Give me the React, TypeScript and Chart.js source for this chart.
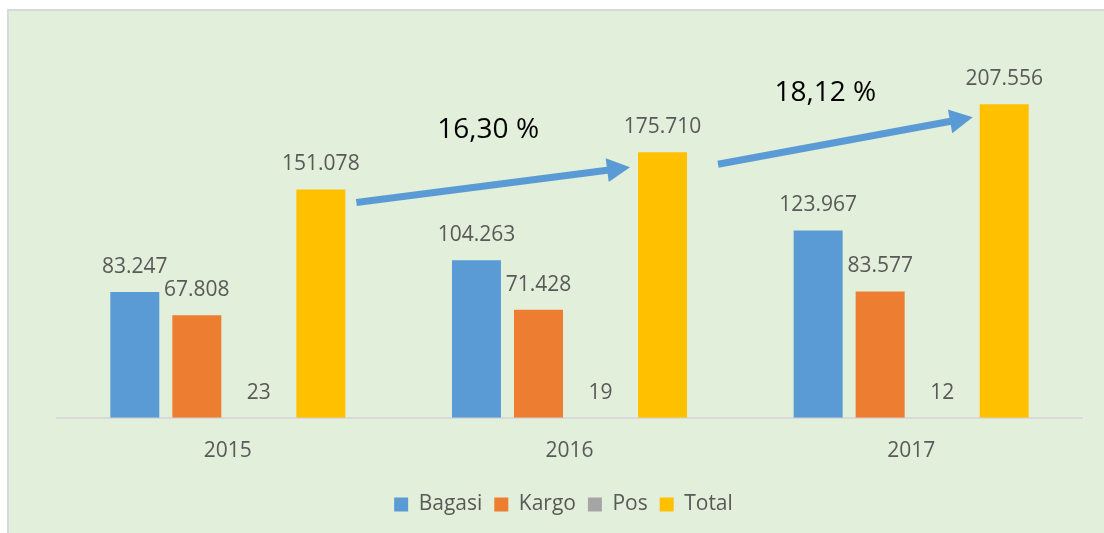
import React, { useEffect, useRef } from "react";
import { Chart, registerables } from "chart.js";

Chart.register(...registerables);

const years = ["2015", "2016", "2017"];
const bagasi = [83247, 104263, 123967];
const kargo = [67808, 71428, 83577];
const pos = [23, 19, 12];
const total = [151078, 175710, 207556];
const growthLabels = ["16,30 %", "18,12 %"];

const FONT = "'Open Sans', 'DejaVu Sans', sans-serif";
const LABEL_COLOR = "#595959";

function fmt(v: number): string {
  return Math.round(v).toString().replace(/\B(?=(\d{3})+(?!\d))/g, ".");
}

const backgroundPlugin = {
  id: "bgBox",
  beforeDraw(chart: any) {
    const ctx = chart.ctx;
    const w = chart.width;
    const h = chart.height;
    ctx.save();
    ctx.fillStyle = "#ffffff";
    ctx.fillRect(0, 0, w, h);
    ctx.fillStyle = "#E2EFDA";
    ctx.fillRect(8, 10, w - 8, h - 10);
    ctx.strokeStyle = "#D9D9D9";
    ctx.lineWidth = 2;
    ctx.beginPath();
    ctx.moveTo(8, h);
    ctx.lineTo(8, 10);
    ctx.lineTo(w, 10);
    ctx.stroke();
    ctx.restore();
  },
};

const legendShiftPlugin = {
  id: "legendShift",
  afterLayout(chart: any) {
    if (chart.legend) {
      chart.legend.left -= 6;
      chart.legend.right -= 6;
    }
  },
};

const dataLabelPlugin = {
  id: "dataLabels",
  afterDatasetsDraw(chart: any) {
    const ctx = chart.ctx;
    ctx.save();
    ctx.font = `21px ${FONT}`;
    ctx.fillStyle = LABEL_COLOR;
    ctx.textAlign = "center";
    ctx.textBaseline = "middle";
    chart.data.datasets.forEach((ds: any, i: number) => {
      const meta = chart.getDatasetMeta(i);
      meta.data.forEach((bar: any, j: number) => {
        ctx.fillText(fmt(ds.data[j]), bar.x, bar.y - 25);
      });
    });
    ctx.restore();
  },
};

const arrowPlugin = {
  id: "growthArrows",
  afterDatasetsDraw(chart: any) {
    const meta = chart.getDatasetMeta(3);
    const bars = meta.data;
    const offsets = [
      { sx: 11, sy: 13, ex: -8, ey: 15, lx: -5, ly: -55 },
      { sx: 31, sy: 12, ex: -7, ey: 13, lx: -20, ly: -48 },
    ];
    const ctx = chart.ctx;
    ctx.save();
    for (let k = 0; k < bars.length - 1; k++) {
      const a = bars[k];
      const b = bars[k + 1];
      const o = offsets[k];
      const x1 = a.x + a.width / 2 + o.sx;
      const y1 = a.y + o.sy;
      const x2 = b.x - b.width / 2 + o.ex;
      const y2 = b.y + o.ey;
      const dx = x2 - x1;
      const dy = y2 - y1;
      const len = Math.sqrt(dx * dx + dy * dy);
      const ux = dx / len;
      const uy = dy / len;
      const headLen = 23;
      const headHalf = 12;
      const bx = x2 - ux * headLen;
      const by = y2 - uy * headLen;
      ctx.strokeStyle = "#5B9BD5";
      ctx.fillStyle = "#5B9BD5";
      ctx.lineWidth = 7;
      ctx.lineCap = "butt";
      ctx.beginPath();
      ctx.moveTo(x1, y1);
      ctx.lineTo(bx + ux * 2, by + uy * 2);
      ctx.stroke();
      ctx.beginPath();
      ctx.moveTo(x2, y2);
      ctx.lineTo(bx - uy * headHalf, by + ux * headHalf);
      ctx.lineTo(bx + uy * headHalf, by - ux * headHalf);
      ctx.closePath();
      ctx.fill();

      const mx = (x1 + x2) / 2 + o.lx;
      const my = (y1 + y2) / 2 + o.ly;
      ctx.font = `28px ${FONT}`;
      ctx.fillStyle = "#000000";
      ctx.textAlign = "center";
      ctx.textBaseline = "middle";
      ctx.fillText(growthLabels[k], mx, my);
    }
    ctx.restore();
  },
};

export default function App() {
  const canvasRef = useRef<HTMLCanvasElement | null>(null);

  useEffect(() => {
    if (!canvasRef.current) return;
    const barOpts = { categoryPercentage: 0.726, barPercentage: 0.79 };
    const chart = new Chart(canvasRef.current, {
      type: "bar",
      data: {
        labels: years,
        datasets: [
          { label: "Bagasi", data: bagasi, backgroundColor: "#5B9BD5", ...barOpts },
          { label: "Kargo", data: kargo, backgroundColor: "#ED7D31", ...barOpts },
          { label: "Pos", data: pos, backgroundColor: "#A5A5A5", ...barOpts },
          { label: "Total", data: total, backgroundColor: "#FFC000", ...barOpts },
        ],
      },
      options: {
        animation: false,
        responsive: false,
        maintainAspectRatio: false,
        layout: { padding: { left: 57, right: 22, top: 40, bottom: 8 } },
        plugins: {
          legend: {
            position: "bottom",
            labels: {
              boxWidth: 14,
              boxHeight: 14,
              padding: 12,
              color: LABEL_COLOR,
              font: { size: 21, family: FONT },
            },
          },
          tooltip: { enabled: false },
          title: { display: false },
        },
        scales: {
          x: {
            grid: { display: false, drawTicks: false },
            border: { display: true, color: "#D9D9D9", width: 2 },
            ticks: {
              padding: 21,
              color: LABEL_COLOR,
              font: { size: 21, family: FONT },
            },
            afterFit: (scale: any) => {
              scale.height -= 3;
            },
          },
          y: {
            display: false,
            min: 0,
            max: 250000,
          },
        },
      },
      plugins: [backgroundPlugin, legendShiftPlugin, dataLabelPlugin, arrowPlugin],
    } as any);
    return () => chart.destroy();
  }, []);

  return (
    <div style={{ position: "fixed", left: 0, top: 0, width: 1104, height: 533 }}>
      <canvas ref={canvasRef} width={1104} height={533} style={{ width: 1104, height: 533 }} />
    </div>
  );
}
